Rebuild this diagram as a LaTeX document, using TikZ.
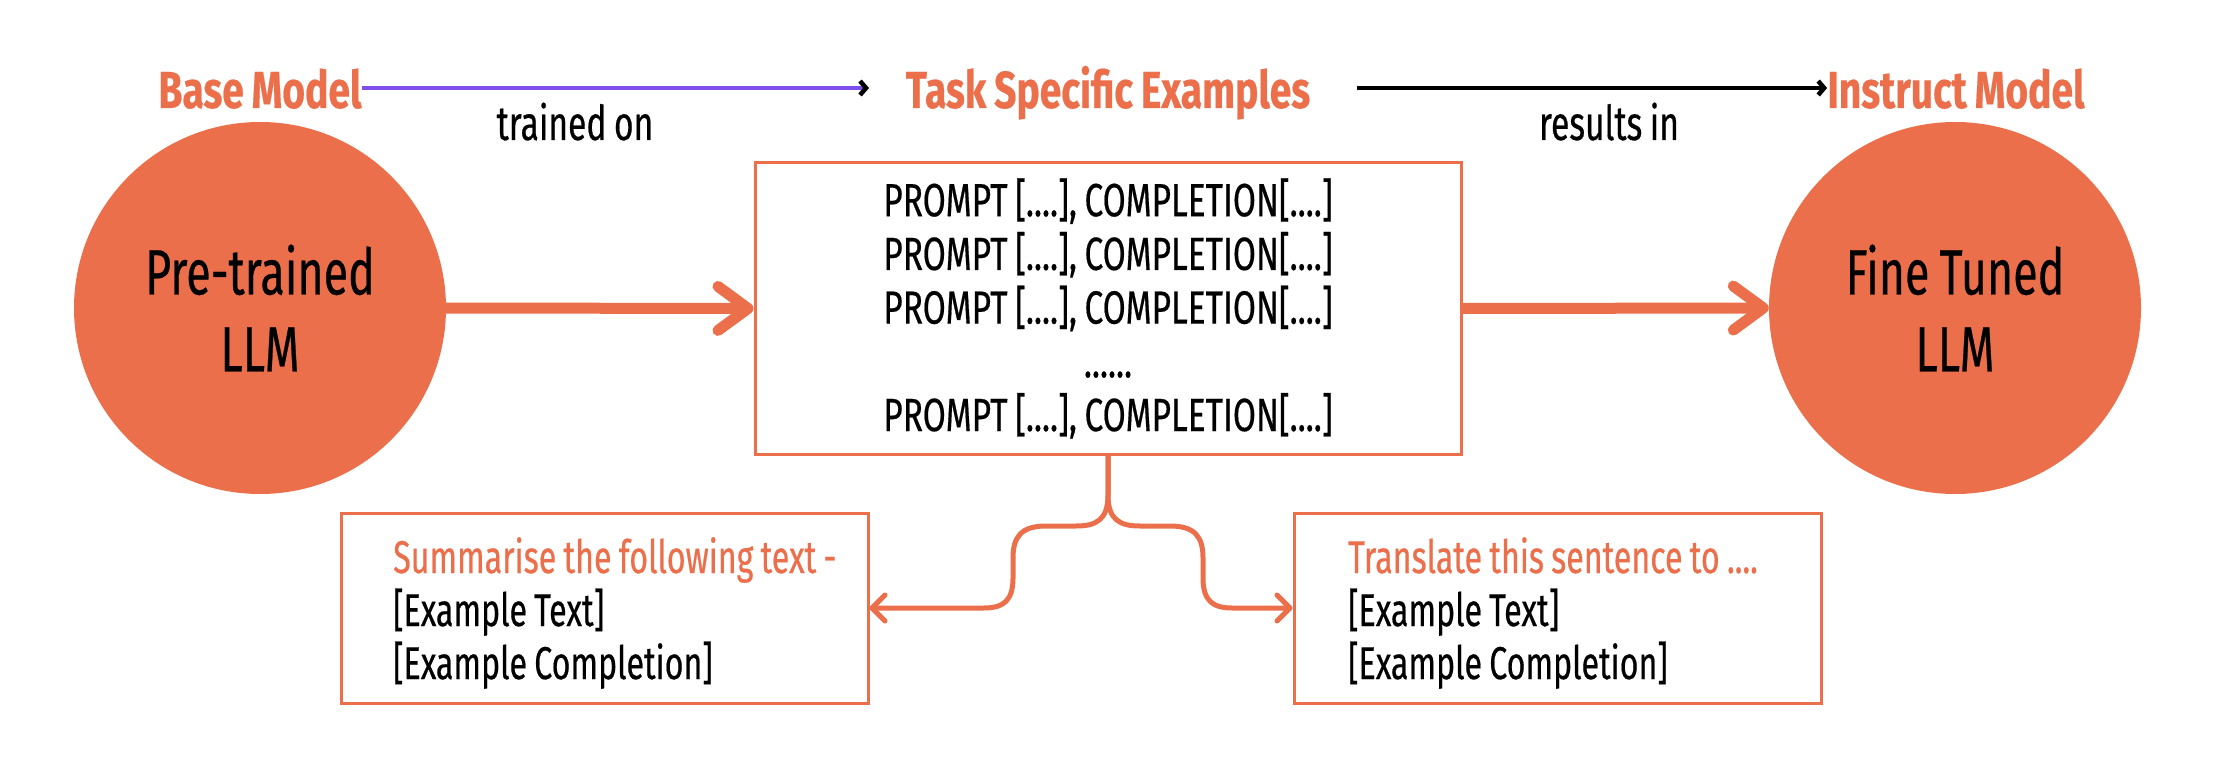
\documentclass[tikz,border=0pt]{standalone}
\usepackage{fontspec}
\setmainfont{Fira Sans}[FakeStretch=0.70, WordSpace=0.85, FakeBold=0.4, BoldFeatures={FakeStretch=0.75}]
\newfontfamily\widefont{Fira Sans}[FakeStretch=0.72, WordSpace=0.85, FakeBold=0.4]
\usetikzlibrary{arrows.meta}
\definecolor{orng}{RGB}{236,111,76}
\definecolor{purp}{RGB}{128,78,232}
\begin{document}
\begin{tikzpicture}[x=1pt,y=-1pt,
  title/.style={font=\fontsize{52}{60}\selectfont\bfseries, text=orng, inner sep=0pt, anchor=base},
  lbl/.style={font=\fontsize{48}{54}\selectfont, inner sep=0pt, anchor=base},
  llm/.style={circle, fill=orng, minimum size=372pt, inner sep=0pt, align=center, font=\fontsize{64}{77}\selectfont},
  mainbox/.style={draw=orng, line width=3pt, minimum width=706pt, minimum height=291pt, inner sep=0pt, align=center, font=\widefont\fontsize{46.5}{53.7}\selectfont},
  lowbox/.style={draw=orng, line width=3pt, minimum width=527pt, minimum height=190pt, inner sep=0pt},
  lowtext/.style={inner sep=0pt, anchor=west, align=left, font=\fontsize{46}{53}\selectfont},
  bigarrow/.style={orng, line width=11pt, -{Straight Barb[length=30pt,width=44pt,round]}},
  thinarrow/.style={line width=4.5pt, -{Straight Barb[length=6pt,width=14pt,color=black]}},
  bracearrow/.style={orng, line width=5pt, -{Straight Barb[length=13pt,width=26pt,round]}}
]
\useasboundingbox (0,0) rectangle (2214,759);
\fill[white] (0,0) rectangle (2214,759);

\node[title] (base) at (260,108) {Base Model};
\node[title] (task) at (1108,108) {Task Specific Examples};
\node[title] (instr) at (1956,108) {Instruct Model};
\node[lbl] (trn) at (575,140) {trained on};
\node[lbl] (res) at (1609,140) {results in};

\coordinate (pend) at (869,88);
\coordinate (rstart) at (1357,88);
\draw[thinarrow, purp] (base.east |- pend) -- (pend);
\draw[thinarrow, black] (rstart) -- (instr.west |- rstart);

\node[llm] (pre) at (260,308) {Pre-trained\\LLM};
\node[llm] (ft) at (1955,308) {Fine Tuned\\LLM};

\node[mainbox] (ex) at (1108,308.5) {PROMPT [....], COMPLETION[....]\\PROMPT [....], COMPLETION[....]\\PROMPT [....], COMPLETION[....]\\......\\PROMPT [....], COMPLETION[....]};

\draw[bigarrow] (pre.east) -- (ex.west);
\draw[bigarrow] (ex.east) -- (ft.west);

\node[lowbox] (sum) at (604.5,608) {};
\node[lowbox] (trl) at (1557.5,608) {};
\node[lowtext] (sumtxt) at (393,613) {\textcolor{orng}{Summarise the following text -}\\{[Example Text]}\\{[Example Completion]}};
\node[lowtext] (trltxt) at (1348,613) {\textcolor{orng}{Translate this sentence to ....}\\{[Example Text]}\\{[Example Completion]}};

\draw[bracearrow] (ex.south) -- (1108,495) .. controls (1108,520) and (1096,526) .. (1076,526) -- (1046,526) .. controls (1021,526) and (1013,537) .. (1013,558) -- (1013,578) .. controls (1013,600) and (1004,608) .. (984,608) -- (sum.east);
\draw[bracearrow] (ex.south) -- (1108,495) .. controls (1108,520) and (1120,526) .. (1140,526) -- (1170,526) .. controls (1195,526) and (1203,537) .. (1203,558) -- (1203,578) .. controls (1203,600) and (1212,608) .. (1232,608) -- (trl.west);
\end{tikzpicture}
\end{document}
